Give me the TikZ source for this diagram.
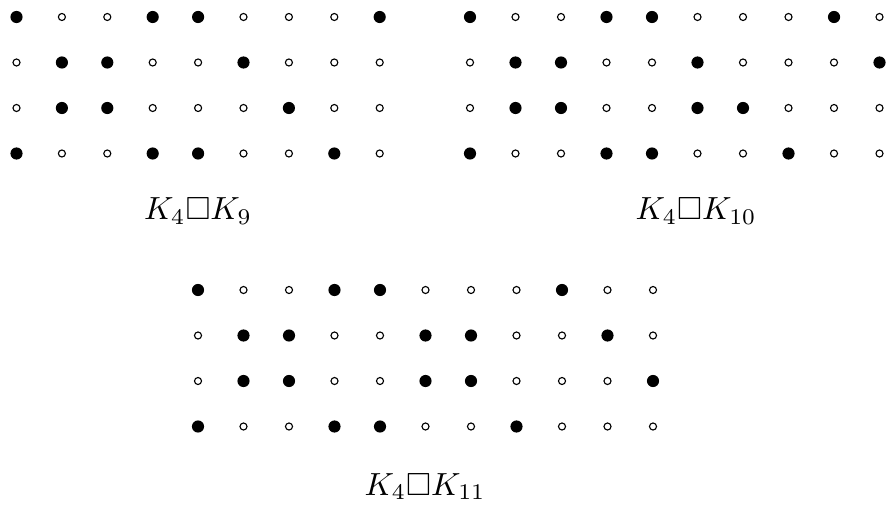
\documentclass[tikz,border=0pt]{standalone}
\usepackage{amssymb}
\begin{document}
\begin{tikzpicture}[x=0.3125pt,y=-0.3125pt,
  s1/.style={circle,fill=black,inner sep=0pt,minimum size=3.8pt},
  s0/.style={circle,draw=black,line width=0.35pt,inner sep=0pt,minimum size=2.2pt},
  lbl/.style={inner sep=0pt,anchor=base}]
\useasboundingbox (0,0) rectangle (889,504);
% grid 1: K4 x K9
\foreach \r/\pat in {1/{1,0,0,1,1,0,0,0,1},2/{0,1,1,0,0,1,0,0,0},3/{0,1,1,0,0,0,1,0,0},4/{1,0,0,1,1,0,0,1,0}}{
  \foreach \b [count=\c] in \pat {
    \node[s\b] (a-\r-\c) at ({16.5+(\c-1)*45.4},{17+(\r-1)*45.5}) {};
  }
}
% grid 2: K4 x K10
\foreach \r/\pat in {1/{1,0,0,1,1,0,0,0,1,0},2/{0,1,1,0,0,1,0,0,0,1},3/{0,1,1,0,0,1,1,0,0,0},4/{1,0,0,1,1,0,0,1,0,0}}{
  \foreach \b [count=\c] in \pat {
    \node[s\b] (b-\r-\c) at ({470+(\c-1)*45.5},{17+(\r-1)*45.5}) {};
  }
}
% grid 3: K4 x K11
\foreach \r/\pat in {1/{1,0,0,1,1,0,0,0,1,0,0},2/{0,1,1,0,0,1,1,0,0,1,0},3/{0,1,1,0,0,1,1,0,0,0,1},4/{1,0,0,1,1,0,0,1,0,0,0}}{
  \foreach \b [count=\c] in \pat {
    \node[s\b] (c-\r-\c) at ({198+(\c-1)*45.5},{290+(\r-1)*45.5}) {};
  }
}
\node[lbl] (la) at (198,220) {$K_4\Box K_9$};
\node[lbl] (lb) at (696,220) {$K_4\Box K_{10}$};
\node[lbl] (lc) at (425,495) {$K_4\Box K_{11}$};
\end{tikzpicture}
\end{document}
